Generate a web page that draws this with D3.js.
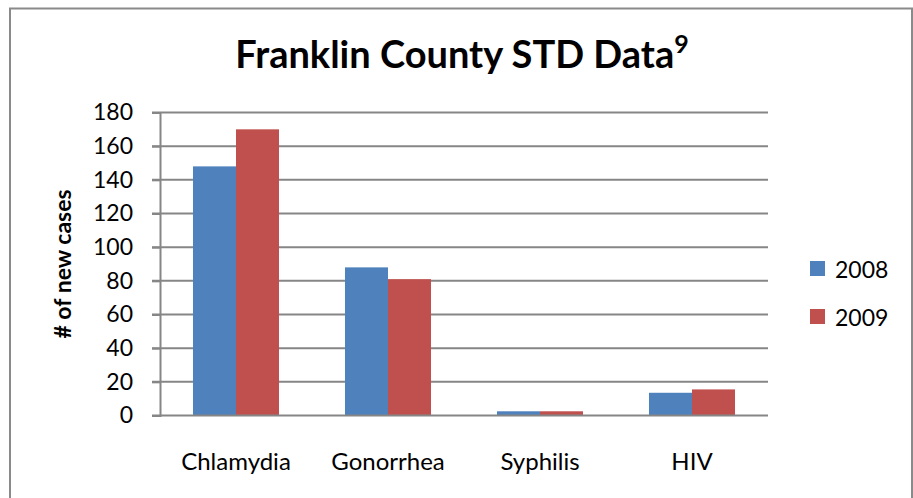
<!DOCTYPE html>
<html>
<head>
<meta charset="utf-8">
<script src="https://cdn.jsdelivr.net/npm/d3@7"></script>
<style>
  html, body { margin: 0; padding: 0; background: #fff; }
  svg { display: block; }
  text { font-family: Lato, "Open Sans", sans-serif; fill: #000; }
</style>
</head>
<body>
<svg id="chart" width="913" height="498"></svg>
<script>
const categories = ["Chlamydia", "Gonorrhea", "Syphilis", "HIV"];
const seriesNames = ["2008", "2009"];
const values2008 = [148, 88, 2.5, 13.5];
const values2009 = [170, 81, 2.5, 15.5];
const yTicks = [0, 20, 40, 60, 80, 100, 120, 140, 160, 180];
const colors = ["#4F81BD", "#C0504D"];

const seriesValues = [values2008, values2009];
const svg = d3.select("#chart");

// outer chart border
svg.append("rect")
  .attr("x", 10).attr("y", 8.5)
  .attr("width", 902).attr("height", 500)
  .attr("fill", "none").attr("stroke", "#8a8a8a").attr("stroke-width", 2);

const plotL = 160, plotR = 768, plotT = 112.5, plotB = 415.5;

const x0 = d3.scaleBand().domain(categories).range([plotL, plotR]).padding(0);
const x1 = d3.scaleBand().domain(seriesNames).range([0, x0.bandwidth()])
  .paddingInner(0).paddingOuter(0.767);
const y = d3.scaleLinear().domain([0, 180]).range([plotB, plotT]);

// gridlines
svg.append("g").selectAll("line").data(yTicks.filter(d => d > 0)).join("line")
  .attr("x1", plotL - 8).attr("x2", plotR)
  .attr("y1", d => y(d)).attr("y2", d => y(d))
  .attr("stroke", "#868686").attr("stroke-width", 2);

// y axis
const yAxis = d3.axisLeft(y).tickValues(yTicks).tickSize(8).tickPadding(19).tickFormat(d3.format("d"));
const gy = svg.append("g").attr("transform", `translate(${plotL},0)`).call(yAxis);
gy.select(".domain").attr("stroke", "#868686").attr("stroke-width", 2);
gy.selectAll(".tick line").attr("stroke", "#868686").attr("stroke-width", 2);
gy.selectAll(".tick text").attr("font-size", 23).attr("font-family", "Lato, sans-serif").attr("fill", "#000");

// bars
const groups = svg.append("g").selectAll("g").data(categories).join("g")
  .attr("transform", d => `translate(${x0(d)},0)`);
groups.selectAll("rect")
  .data((c, i) => seriesNames.map((s, j) => ({ s, v: seriesValues[j][i], j })))
  .join("rect")
  .attr("x", d => x1(d.s))
  .attr("width", x1.bandwidth())
  .attr("y", d => y(d.v))
  .attr("height", d => y(0) - y(d.v))
  .attr("fill", d => colors[d.j]);

// x axis baseline
const xAxis = d3.axisBottom(x0).tickSize(0).tickPadding(37);
const gx = svg.append("g").attr("transform", `translate(0,${plotB})`).call(xAxis);
gx.select(".domain").attr("stroke", "#868686").attr("stroke-width", 2)
  .attr("d", `M${plotL - 8},0H${plotR}`);
gx.selectAll(".tick text").attr("font-size", 24).attr("font-family", "Lato, sans-serif").attr("fill", "#000");

// title
const title = svg.append("text")
  .attr("x", 462).attr("y", 68)
  .attr("text-anchor", "middle")
  .attr("font-size", 38).attr("font-weight", "bold");
title.append("tspan").text("Franklin County STD Data");
title.append("tspan").attr("font-size", 25).attr("dy", -15).text("9");

// y axis title
svg.append("text")
  .attr("transform", `translate(71,${(plotT + plotB) / 2}) rotate(-90)`)
  .attr("text-anchor", "middle")
  .attr("font-size", 23).attr("font-weight", "bold")
  .text("# of new cases");

// legend
const legend = svg.append("g").selectAll("g").data(seriesNames).join("g")
  .attr("transform", (d, i) => `translate(810,${261 + i * 48})`);
legend.append("rect").attr("width", 15).attr("height", 15)
  .attr("fill", (d, i) => colors[i]);
legend.append("text").attr("x", 25).attr("y", 17)
  .attr("font-size", 23).text(d => d);
</script>
</body>
</html>
